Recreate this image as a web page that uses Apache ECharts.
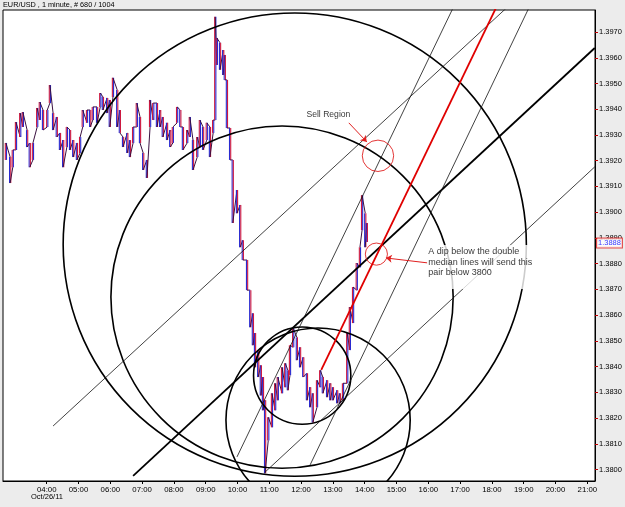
<!DOCTYPE html>
<html>
<head>
<meta charset="utf-8">
<script src="https://cdn.jsdelivr.net/npm/echarts@6/dist/echarts.min.js"></script>
<style>
  html, body { margin: 0; padding: 0; background: #ececec; }
  #chart { width: 625px; height: 507px; }
</style>
</head>
<body>
<div id="chart"></div>
<script>
// price bars (sampled from the 1 minute chart), time of day + high / low
const barTimes = ['02:43','02:51','02:56','03:02','03:10','03:15','03:23','03:28','03:34','03:42',
  '03:47','03:53','04:01','04:06','04:12','04:19','04:25','04:31','04:38','04:44',
  '04:50','04:57','05:03','05:08','05:16','05:22','05:27','05:35','05:41','05:46',
  '05:54','05:59','06:05','06:13','06:18','06:24','06:32','06:37','06:43','06:50',
  '06:56','07:02','07:09','07:15','07:21','07:28','07:34','07:39','07:47','07:53',
  '07:58','08:06','08:12','08:17','08:25','08:30','08:36','08:44','08:49','08:55',
  '09:02','09:08','09:14','09:18','09:21','09:27','09:33','09:36','09:40','09:46',
  '09:51','09:59','10:05','10:10','10:18','10:24','10:29','10:33','10:39','10:44',
  '10:48','10:52','10:58','11:05','11:11','11:16','11:24','11:30','11:35','11:39',
  '11:45','11:52','11:58','12:04','12:11','12:17','12:22','12:30','12:36','12:41',
  '12:49','12:55','13:00','13:08','13:13','13:19','13:27','13:32','13:38','13:45',
  '13:51','13:55','14:01','14:04'];
const barHighs = [1.39269,1.39214,1.39242,1.39350,1.39385,1.39389,1.39319,1.39269,1.39269,1.39405,
  1.39428,1.39397,1.39397,1.39494,1.39385,1.39370,1.39308,1.39280,1.39331,1.39319,
  1.39280,1.39269,1.39292,1.39397,1.39397,1.39397,1.39409,1.39409,1.39463,1.39448,
  1.39444,1.39436,1.39522,1.39475,1.39397,1.39292,1.39308,1.39280,1.39331,1.39424,
  1.39370,1.39230,1.39203,1.39436,1.39424,1.39424,1.39397,1.39370,1.39347,1.39319,
  1.39331,1.39409,1.39397,1.39331,1.39319,1.39370,1.39280,1.39292,1.39358,1.39331,
  1.39347,1.39331,1.39358,1.39759,1.39677,1.39658,1.39630,1.39611,1.39514,1.39327,
  1.39203,1.39086,1.39028,1.38891,1.38814,1.38697,1.38607,1.38530,1.38464,1.38405,
  1.38359,1.38269,1.38203,1.38296,1.38335,1.38359,1.38397,1.38413,1.38386,1.38483,
  1.38549,1.38514,1.38475,1.38436,1.38374,1.38320,1.38296,1.38347,1.38386,1.38359,
  1.38347,1.38335,1.38320,1.38308,1.38296,1.38335,1.38530,1.38631,1.38709,1.38802,
  1.38864,1.39066,1.38996,1.38958];
const barLows = [1.39203,1.39113,1.39175,1.39242,1.39292,1.39331,1.39253,1.39175,1.39203,1.39331,
  1.39358,1.39319,1.39331,1.39424,1.39319,1.39292,1.39242,1.39175,1.39253,1.39242,
  1.39214,1.39203,1.39230,1.39331,1.39347,1.39331,1.39358,1.39347,1.39409,1.39397,
  1.39385,1.39331,1.39448,1.39331,1.39308,1.39253,1.39230,1.39214,1.39269,1.39331,
  1.39269,1.39164,1.39133,1.39331,1.39358,1.39331,1.39331,1.39292,1.39280,1.39253,
  1.39269,1.39347,1.39331,1.39242,1.39269,1.39292,1.39164,1.39214,1.39253,1.39242,
  1.39280,1.39214,1.39308,1.39358,1.39572,1.39553,1.39533,1.39514,1.39327,1.39203,
  1.38958,1.38996,1.38864,1.38814,1.38697,1.38553,1.38483,1.38397,1.38359,1.38288,
  1.38230,1.37985,1.38113,1.38164,1.38230,1.38269,1.38296,1.38320,1.38308,1.38366,
  1.38475,1.38425,1.38397,1.38359,1.38269,1.38242,1.38183,1.38242,1.38320,1.38296,
  1.38281,1.38269,1.38269,1.38257,1.38257,1.38269,1.38335,1.38464,1.38569,1.38697,
  1.38786,1.38930,1.38864,1.38884];

// drawing objects
const circleTimes = ['11:48', '11:24', '12:32', '12:02'];
const circlePrices = [1.38874, 1.38670, 1.38192, 1.38365];
const circleRadii = [0.00900, 0.00665, 0.00358, 0.00189];

const redCircleTimes = ['14:25', '14:22'];
const redCirclePrices = [1.39219, 1.38837];
const redCircleRadii = [0.00061, 0.00043];

// [start time, start price, end time, end price]
const medianLine = ['06:43', 1.37975, '21:14', 1.39638];
const thinLines = [
  ['04:12', 1.38169, '18:44', 1.39825],
  ['10:52', 1.37990, '21:14', 1.39176],
  ['09:59', 1.38049, '16:54', 1.39825],
  ['12:17', 1.38018, '19:17', 1.39825]
];
const redLine = ['12:38', 1.38387, '18:15', 1.39825];
const arrows = [
  ['13:30', 1.39347, '14:04', 1.39273],
  ['15:58', 1.38803, '14:40', 1.38822]
];

const notes = ['Sell Region', 'A dip below the double\nmedian lines will send this\npair below 3800'];
const noteTimes = ['12:10', '15:58'];
const notePrices = [1.39378, 1.38872];

const lastPrice = 1.3888;
const hourTicks = ['04:00','05:00','06:00','07:00','08:00','09:00','10:00','11:00','12:00',
  '13:00','14:00','15:00','16:00','17:00','18:00','19:00','20:00','21:00'];
const priceTicks = [1.380,1.381,1.382,1.383,1.384,1.385,1.386,1.387,1.388,1.389,
  1.390,1.391,1.392,1.393,1.394,1.395,1.396,1.397];

const FONT = "'Liberation Sans', Arial, sans-serif";
const toMin = s => { const p = s.split(':'); return +p[0] * 60 + +p[1]; };
const pad = n => String(n).padStart(2, '0');
const fmtTime = v => pad(Math.floor(v / 60)) + ':' + pad(Math.round(v % 60));

const barData = barTimes.map((t, i) => [toMin(t), barHighs[i], barLows[i]]);
const midOf = i => (barHighs[i] + barLows[i]) / 2;
const rising = i => i === 0 || midOf(i) >= midOf(i - 1);

function segSeries(seg, color, width, z) {
  return {
    type: 'line', silent: true, clip: true, z: z, symbol: 'none', animation: false,
    data: [[toMin(seg[0]), seg[1]], [toMin(seg[2]), seg[3]]],
    lineStyle: { color: color, width: width }
  };
}

function circleSeries(times, prices, radii, color, width, z) {
  return {
    type: 'custom', silent: true, clip: true, z: z, animation: false,
    data: times.map((t, i) => [toMin(t), prices[i], radii[i]]),
    renderItem: (params, api) => {
      const c = api.coord([api.value(0), api.value(1)]);
      const r = api.size([0, api.value(2)])[1];
      return {
        type: 'circle',
        shape: { cx: c[0], cy: c[1], r: r },
        style: { fill: 'none', stroke: color, lineWidth: width }
      };
    }
  };
}

const BLUE = '#2a2ad0';
const RED = '#cc1840';
const DARK = '#3a1040';

const chart = echarts.init(document.getElementById('chart'));

const series = [
  {
    // each sampled bar: a red + blue stroke pair, joined to the next bar like the 1m bars run on
    type: 'custom', silent: true, clip: true, z: 1, animation: false,
    data: barData,
    renderItem: (params, api) => {
      const i = params.dataIndex;
      const hi = api.coord([api.value(0), api.value(1)]);
      const lo = api.coord([api.value(0), api.value(2)]);
      const up = rising(i);
      const children = [
        { type: 'line', shape: { x1: hi[0] - 0.6, y1: hi[1], x2: lo[0] - 0.6, y2: lo[1] },
          style: { stroke: up ? RED : BLUE, lineWidth: 1.1 } },
        { type: 'line', shape: { x1: hi[0] + 0.6, y1: hi[1], x2: lo[0] + 0.6, y2: lo[1] },
          style: { stroke: up ? BLUE : RED, lineWidth: 1.1 } }
      ];
      if (i + 1 < barData.length) {
        const n = barData[i + 1];
        const end = up ? hi : lo;
        const next = api.coord([n[0], rising(i + 1) ? n[2] : n[1]]);
        children.push({ type: 'line', shape: { x1: end[0], y1: end[1], x2: next[0], y2: next[1] },
          style: { stroke: DARK, lineWidth: 1 } });
      }
      return { type: 'group', children: children };
    }
  },
  circleSeries(circleTimes, circlePrices, circleRadii, '#000', 1.6, 3),
  circleSeries(redCircleTimes, redCirclePrices, redCircleRadii, '#e02020', 0.9, 4),
  segSeries(medianLine, '#000', 1.8, 3)
];
thinLines.forEach(l => series.push(segSeries(l, '#111', 0.8, 3)));
series.push(segSeries(redLine, '#e00000', 1.8, 4));

series.push({
  type: 'line', silent: true, symbol: 'none', data: [], z: 5,
  markLine: {
    silent: true, animation: false,
    symbol: ['none', 'arrow'], symbolSize: 6,
    lineStyle: { color: '#e02020', width: 1, type: 'solid' },
    label: { show: false },
    data: arrows.map(a => [{ coord: [toMin(a[0]), a[1]] }, { coord: [toMin(a[2]), a[3]] }])
  }
});

series.push({
  type: 'scatter', silent: true, clip: false, z: 10, symbolSize: 0, animation: false,
  data: [[toMin(noteTimes[0]), notePrices[0]]],
  label: {
    show: true, position: 'right', distance: 0, formatter: notes[0],
    color: '#000', fontSize: 8.6, fontFamily: FONT
  }
});
series.push({
  type: 'scatter', silent: true, clip: false, z: 10, symbolSize: 0, animation: false,
  data: [[toMin(noteTimes[1]), notePrices[1]]],
  label: {
    show: true, position: [0, 0], align: 'left', verticalAlign: 'top',
    formatter: notes[1], color: '#000', fontSize: 9, fontFamily: FONT,
    lineHeight: 10.5, backgroundColor: '#fff', padding: [1.5, 2, 11, 1]
  }
});
series.push({
  type: 'scatter', silent: true, clip: false, z: 10, symbolSize: 0, animation: false,
  data: [[1274.5, lastPrice]],
  label: {
    show: true, position: 'right', distance: 2, formatter: lastPrice.toFixed(4),
    color: '#0000ff', fontSize: 7.5, fontFamily: FONT, lineHeight: 9,
    backgroundColor: '#fff', borderColor: '#e02020', borderWidth: 1, padding: [0, 1, 0, 1]
  }
});

chart.setOption({
  animation: false,
  backgroundColor: '#ececec',
  title: [
    { text: 'EUR/USD , 1 minute, # 680 / 1004', left: 2, top: 0, padding: 1,
      textStyle: { fontSize: 7.3, fontWeight: 'normal', color: '#000', fontFamily: FONT } },
    { text: 'Oct/26/11', left: 30, top: 492, padding: 1,
      textStyle: { fontSize: 7.5, fontWeight: 'normal', color: '#000', fontFamily: FONT } }
  ],
  grid: { left: 3, right: 30, top: 10, bottom: 26, show: true, backgroundColor: '#fff',
    borderColor: '#000', borderWidth: 1 },
  xAxis: {
    type: 'value', min: 157.5, max: 1274.5,
    axisLine: { show: true, lineStyle: { color: '#000' } },
    axisTick: { show: true, customValues: hourTicks.map(toMin), length: 3, lineStyle: { color: '#000' } },
    axisLabel: { customValues: hourTicks.map(toMin), formatter: fmtTime, color: '#000',
      fontSize: 7.8, fontFamily: FONT, margin: 5 },
    splitLine: { show: false }
  },
  yAxis: {
    type: 'value', position: 'right', min: 1.379553, max: 1.397856,
    axisLine: { show: true, lineStyle: { color: '#000' } },
    axisTick: { show: true, customValues: priceTicks, length: 3, lineStyle: { color: '#c00000' } },
    axisLabel: { customValues: priceTicks, formatter: v => v.toFixed(4), color: '#000',
      fontSize: 7.5, fontFamily: FONT, margin: 4 },
    splitLine: { show: false }
  },
  series: series
});
</script>
</body>
</html>
